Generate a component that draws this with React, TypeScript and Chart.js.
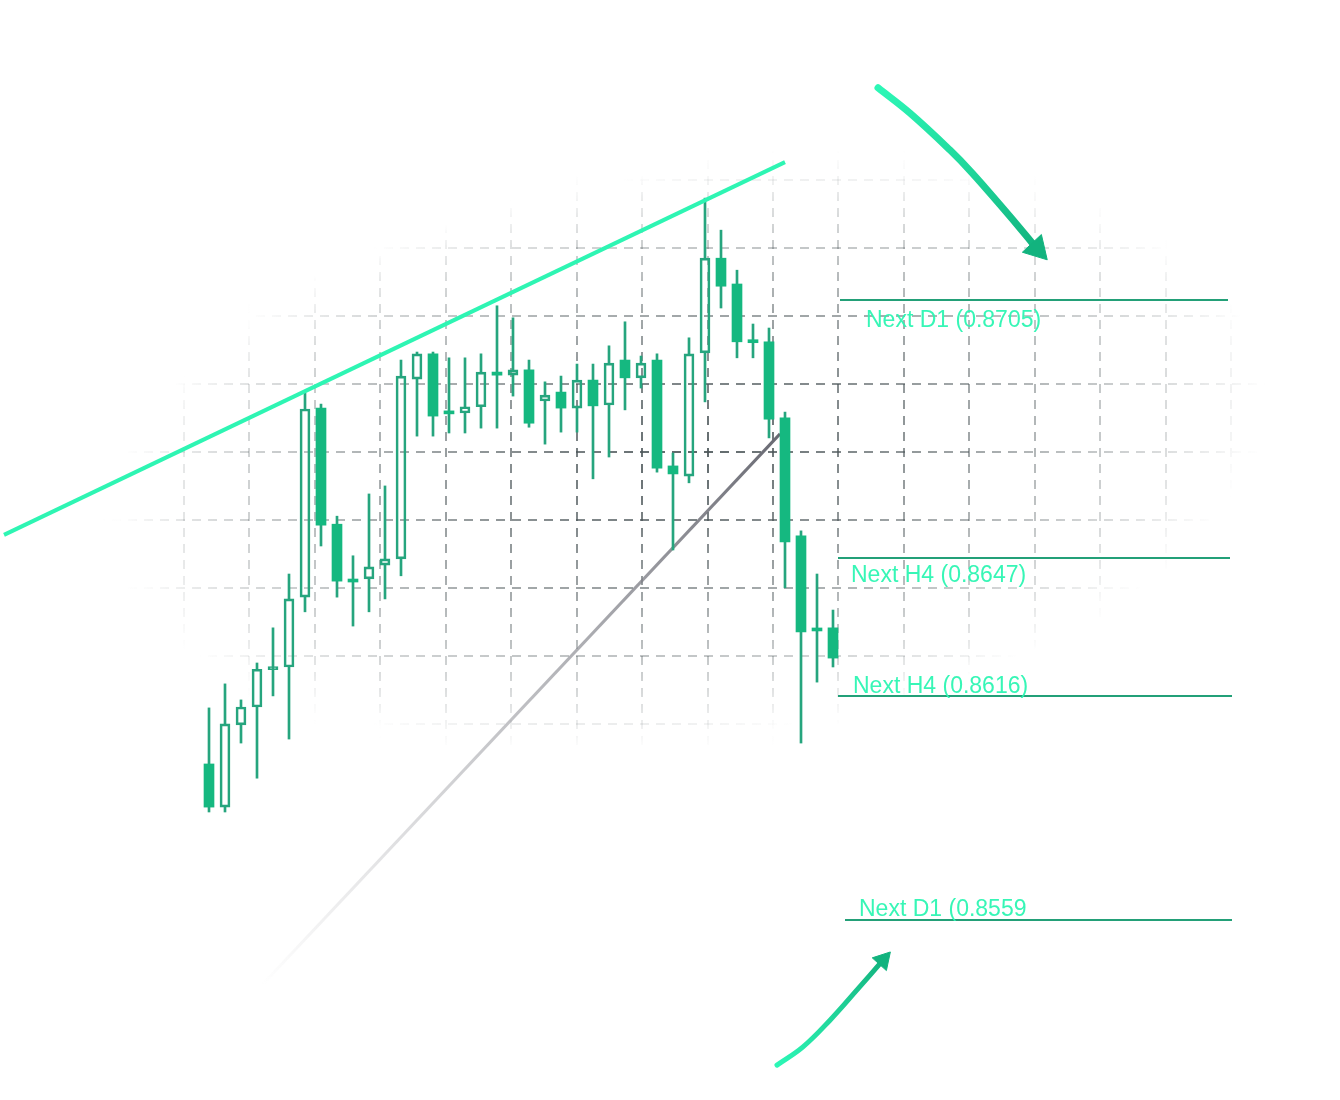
import React, { useEffect, useRef } from "react";
import { Chart, registerables } from "chart.js";

Chart.register(...registerables);

// ---------- DATA ----------
// 40 candles, x = candle index 0..39
const opens = [
  0.86007, 0.8591, 0.86095, 0.86135, 0.86219, 0.86225, 0.86382, 0.86807, 0.86546, 0.8642,
  0.86423, 0.86454, 0.86468, 0.86872, 0.86929, 0.86798, 0.86796, 0.8681, 0.86888, 0.86881,
  0.86893, 0.86823, 0.86843, 0.86807, 0.8687, 0.86814, 0.86915, 0.86875, 0.86915, 0.86677,
  0.86654, 0.86931, 0.87144, 0.87086, 0.86958, 0.86956, 0.86785, 0.8652, 0.8631, 0.86313,
];
const highs = [
  0.86133, 0.86187, 0.86151, 0.86234, 0.86313, 0.86434, 0.86841, 0.86816, 0.86564, 0.86475,
  0.86614, 0.86632, 0.86915, 0.86933, 0.86933, 0.8692, 0.8692, 0.86929, 0.87037, 0.8701,
  0.86915, 0.86866, 0.86879, 0.86906, 0.86906, 0.86947, 0.87001, 0.86924, 0.86929, 0.86706,
  0.86965, 0.87279, 0.87207, 0.87117, 0.86996, 0.86987, 0.86798, 0.86531, 0.86434, 0.86353,
];
const lows = [
  0.85899, 0.85899, 0.86054, 0.85975, 0.8616, 0.86063, 0.86349, 0.86497, 0.86382, 0.86317,
  0.86349, 0.86378, 0.8643, 0.86744, 0.86744, 0.86751, 0.86751, 0.86762, 0.86762, 0.86834,
  0.86764, 0.86726, 0.86753, 0.86753, 0.86648, 0.86697, 0.86803, 0.86852, 0.86663, 0.86488,
  0.86639, 0.86821, 0.87032, 0.8692, 0.8692, 0.8674, 0.86403, 0.86054, 0.86191, 0.86225,
];
const closes = [
  0.8591, 0.86097, 0.86135, 0.8622, 0.86221, 0.86378, 0.86805, 0.86544, 0.86418, 0.86416,
  0.8645, 0.86468, 0.86879, 0.86929, 0.86789, 0.86794, 0.8681, 0.86888, 0.86881, 0.86893,
  0.86773, 0.86836, 0.86807, 0.8687, 0.86812, 0.86908, 0.86875, 0.86908, 0.86672, 0.86659,
  0.86929, 0.87144, 0.87081, 0.86956, 0.86954, 0.86782, 0.86506, 0.86304, 0.86306, 0.86245,
];

// rising resistance line (index, price)
const resistanceX = [-12.8125, 36];
const resistanceY = [0.86522, 0.8736];

// fading support line (index, price)
const supportX = [3.3125, 35.6875];
const supportY = [0.8551, 0.86749];

// target levels
const levelValues = [0.8705, 0.8647, 0.8616, 0.85656];
const levelStart = [39.4375, 39.3125, 39.3125, 39.75];
const levelEnd = [63.6875, 63.8125, 63.9375, 63.9375];
const levelLabels = ["Next D1 (0.8705)", "Next H4 (0.8647)", "Next H4 (0.8616)", "Next D1 (0.8559"];

// hand-drawn arrows (index, price)
const arrowDownX = [41.8125, 43.8125, 46.3125, 47.6875, 49.4375, 51.0, 51.75];
const arrowDownY = [0.87527, 0.8747, 0.87387, 0.87336, 0.87264, 0.87198, 0.87165];
const arrowUpX = [35.5, 37.125, 38.8125, 40.5, 42.125];
const arrowUpY = [0.8533, 0.85371, 0.85431, 0.85499, 0.85566];

// ---------- VIEW / STYLE ----------
const X_MIN = -13.0625;
const X_MAX = 70.6875;
const Y_MIN = 0.8525156;
const Y_MAX = 0.8772442;
const GRID_X_MIN = -2.8117;
const GRID_X_MAX = 17.665;
const GRID_Y_MIN = -2.654;
const GRID_Y_MAX = 13.522;

const FILL = "#15b880";
const LINE = "#26a57e";
const MINT = "#2ef5b3";
const LEVEL = "#23a078";
const ARROW_END = "#12b37e";
const LABEL_DX = [26, 13, 15, 14];
const LABEL_DY = [27, 24, -3, -4];

function integerTicks(scale: any) {
  const out: any[] = [];
  for (let v = Math.ceil(scale.min); v <= Math.floor(scale.max); v++) out.push({ value: v });
  scale.ticks = out;
}

function gridAlpha(px: number, py: number) {
  const dx = px - 690;
  const dy = py - 455;
  const c = Math.cos(0.14);
  const s = Math.sin(0.14);
  const u = dx * c - dy * s;
  const v = dx * s + dy * c;
  const d = Math.sqrt((u / 590) ** 2 + (v / 290) ** 2);
  const t = Math.max(0, Math.min(1, (0.97 - d) / 0.97));
  return 0.9 * Math.pow(t, 0.8);
}

function verticalGridColor(c: any) {
  const chart = c.chart;
  const area = chart.chartArea;
  if (!area || !c.tick) return "rgba(0,0,0,0)";
  const px = c.scale.getPixelForValue(c.tick.value);
  const g = chart.ctx.createLinearGradient(0, area.top, 0, area.bottom);
  const N = 44;
  for (let k = 0; k <= N; k++) {
    const py = area.top + ((area.bottom - area.top) * k) / N;
    g.addColorStop(k / N, `rgba(75,85,88,${gridAlpha(px, py).toFixed(3)})`);
  }
  return g;
}

function horizontalGridColor(c: any) {
  const chart = c.chart;
  const area = chart.chartArea;
  if (!area || !c.tick) return "rgba(0,0,0,0)";
  const py = c.scale.getPixelForValue(c.tick.value);
  const g = chart.ctx.createLinearGradient(area.left, 0, area.right, 0);
  const N = 54;
  for (let k = 0; k <= N; k++) {
    const px = area.left + ((area.right - area.left) * k) / N;
    g.addColorStop(k / N, `rgba(75,85,88,${gridAlpha(px, py).toFixed(3)})`);
  }
  return g;
}

function lineGradient(xs: number[], ys: number[], stops: [number, string][], fallback: string) {
  return (c: any) => {
    const chart = c.chart;
    const sx = chart.scales.x;
    const sy = chart.scales.y;
    if (!chart.chartArea || !sx || !sy) return fallback;
    const x0 = sx.getPixelForValue(xs[0]);
    const y0 = sy.getPixelForValue(ys[0]);
    const x1 = sx.getPixelForValue(xs[xs.length - 1]);
    const y1 = sy.getPixelForValue(ys[ys.length - 1]);
    const g = chart.ctx.createLinearGradient(x0, y0, x1, y1);
    stops.forEach(([o, col]) => g.addColorStop(o, col));
    return g;
  };
}

const levelLabelPlugin = {
  id: "levelLabels",
  afterDatasetsDraw(chart: any) {
    const { ctx, scales } = chart;
    ctx.save();
    ctx.font = '23px "Liberation Sans", Arial, sans-serif';
    ctx.fillStyle = "rgba(44,245,178,0.95)";
    ctx.textAlign = "left";
    ctx.textBaseline = "alphabetic";
    levelLabels.forEach((t, i) => {
      const x = scales.x.getPixelForValue(levelStart[i]) + LABEL_DX[i];
      const y = scales.y.getPixelForValue(levelValues[i]) + LABEL_DY[i];
      ctx.fillText(t, x, y);
    });
    ctx.restore();
  },
};

export default function App() {
  const ref = useRef<HTMLCanvasElement>(null);

  useEffect(() => {
    const canvas = ref.current;
    if (!canvas) return;

    const isDown = (i: number) => closes[i] < opens[i];

    const datasets: any[] = [
      // resistance line (top)
      {
        type: "line",
        data: resistanceX.map((x, i) => ({ x, y: resistanceY[i] })),
        borderColor: MINT,
        borderWidth: 4,
        pointRadius: 0,
        order: 1,
      },
      // arrows
      {
        type: "line",
        data: arrowDownX.map((x, i) => ({ x, y: arrowDownY[i] })),
        borderColor: lineGradient(arrowDownX, arrowDownY, [[0, "#2cf7b6"], [0.55, "#1fd69a"], [1, ARROW_END]], MINT),
        borderWidth: 7,
        borderCapStyle: "round",
        borderJoinStyle: "round",
        tension: 0.4,
        pointRadius: arrowDownX.map((_, i) => (i === arrowDownX.length - 1 ? 15 : 0)),
        pointStyle: "triangle",
        pointRotation: 137,
        pointBackgroundColor: ARROW_END,
        pointBorderColor: ARROW_END,
        pointBorderWidth: 1,
        order: 2,
      },
      {
        type: "line",
        data: arrowUpX.map((x, i) => ({ x, y: arrowUpY[i] })),
        borderColor: lineGradient(arrowUpX, arrowUpY, [[0, "#2cf7b6"], [0.6, "#1fcf95"], [1, ARROW_END]], MINT),
        borderWidth: 5,
        borderCapStyle: "round",
        borderJoinStyle: "round",
        tension: 0.4,
        pointRadius: arrowUpX.map((_, i) => (i === arrowUpX.length - 1 ? 11 : 0)),
        pointStyle: "triangle",
        pointRotation: 42,
        pointBackgroundColor: ARROW_END,
        pointBorderColor: ARROW_END,
        pointBorderWidth: 1,
        order: 2,
      },
      // target levels
      ...levelValues.map((v, i) => ({
        type: "line",
        data: [
          { x: levelStart[i], y: v },
          { x: levelEnd[i], y: v },
        ],
        borderColor: LEVEL,
        borderWidth: 2,
        pointRadius: 0,
        order: 3,
      })),
      // candle bodies
      {
        type: "bar",
        data: opens.map((o, i) => ({ x: i, y: [o, closes[i]] })),
        backgroundColor: opens.map((_, i) => (isDown(i) ? FILL : "rgba(255,255,255,0)")),
        borderColor: opens.map((_, i) => (isDown(i) ? FILL : LINE)),
        borderWidth: opens.map((_, i) => (isDown(i) ? 0 : 2)),
        borderSkipped: false,
        barThickness: 10,
        minBarLength: 3,
        grouped: false,
        order: 4,
      },
      // upper wicks
      {
        type: "bar",
        data: opens.map((o, i) => ({ x: i, y: [Math.max(o, closes[i]), highs[i]] })),
        backgroundColor: LINE,
        borderWidth: 0,
        barThickness: 2,
        grouped: false,
        order: 5,
      },
      // lower wicks
      {
        type: "bar",
        data: opens.map((o, i) => ({ x: i, y: [lows[i], Math.min(o, closes[i])] })),
        backgroundColor: LINE,
        borderWidth: 0,
        barThickness: 2,
        grouped: false,
        order: 5,
      },
      // support line (fading)
      {
        type: "line",
        data: supportX.map((x, i) => ({ x, y: supportY[i] })),
        borderColor: lineGradient(
          supportX,
          supportY,
          [
            [0, "rgba(160,160,165,0)"],
            [0.45, "rgba(150,151,157,0.55)"],
            [1, "rgba(104,105,114,1)"],
          ],
          "#777"
        ),
        borderWidth: 3,
        pointRadius: 0,
        order: 10,
      },
    ];

    const chart = new Chart(canvas, {
      type: "bar",
      data: { datasets },
      options: {
        animation: false,
        responsive: true,
        maintainAspectRatio: false,
        events: [],
        layout: { padding: 0, autoPadding: false },
        plugins: { legend: { display: false }, tooltip: { enabled: false } },
        scales: {
          x: {
            type: "linear",
            display: false,
            min: X_MIN,
            max: X_MAX,
            offset: false,
            bounds: "data",
            grid: { offset: false },
          },
          y: {
            type: "linear",
            display: false,
            min: Y_MIN,
            max: Y_MAX,
            beginAtZero: false,
            bounds: "data",
          },
          gx: {
            type: "linear",
            axis: "x",
            position: "bottom",
            min: GRID_X_MIN,
            max: GRID_X_MAX,
            offset: false,
            bounds: "data",
            afterBuildTicks: integerTicks,
            ticks: { display: false, stepSize: 1 },
            grid: { display: true, drawTicks: false, offset: false, lineWidth: 2, color: verticalGridColor },
            border: { display: false, dash: [9, 7] },
          },
          gy: {
            type: "linear",
            axis: "y",
            position: "left",
            reverse: true,
            min: GRID_Y_MIN,
            max: GRID_Y_MAX,
            beginAtZero: false,
            bounds: "data",
            afterBuildTicks: integerTicks,
            ticks: { display: false, stepSize: 1 },
            grid: { display: true, drawTicks: false, lineWidth: 2, color: horizontalGridColor },
            border: { display: false, dash: [9, 7] },
          },
        },
      } as any,
      plugins: [levelLabelPlugin],
    } as any);

    return () => chart.destroy();
  }, []);

  return (
    <div style={{ position: "fixed", left: 0, top: 0, width: 1340, height: 1100, background: "#ffffff" }}>
      <canvas ref={ref} />
    </div>
  );
}
